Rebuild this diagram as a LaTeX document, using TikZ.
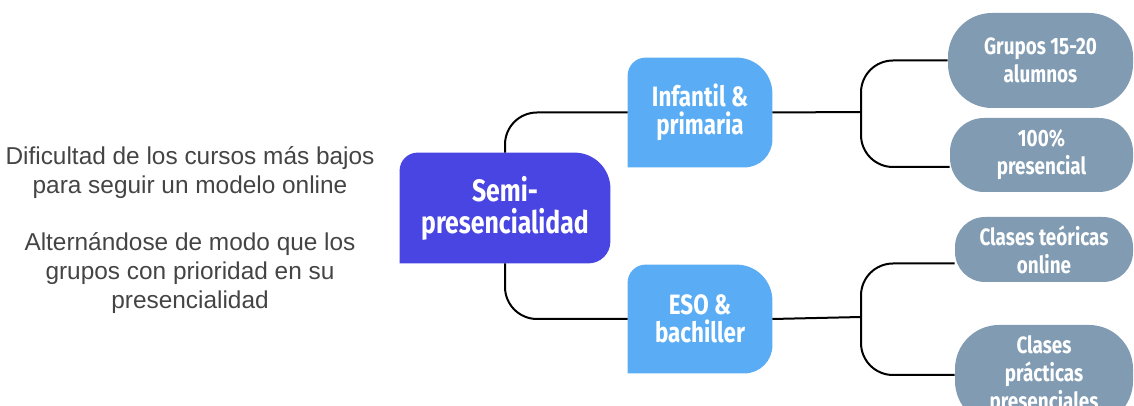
\documentclass[tikz,border=0pt]{standalone}
\usepackage{fontspec}
\setmainfont{Liberation Sans}
\newfontfamily\boxfont{Fira Sans}[FakeStretch=0.8]
\usetikzlibrary{backgrounds}

\definecolor{semiblue}{HTML}{4845E2}
\definecolor{midblue}{HTML}{5AADF5}
\definecolor{slate}{HTML}{809BB2}
\definecolor{leftgray}{HTML}{444444}

% fill behind a node: sharp bottom-left corner, three rounded ones
\newcommand{\tabfill}[5]{%
  \fill[#1] (#2.south west) -- ([yshift=-#3]#2.north west)
    arc[start angle=180,end angle=90,radius=#3] -- ([xshift=-#4]#2.north east)
    arc[start angle=90,end angle=0,radius=#4] -- ([yshift=#5]#2.south east)
    arc[start angle=0,end angle=-90,radius=#5] -- cycle;}

\tikzset{
  mainbox/.style={inner sep=0pt, align=center, text=white,
    font=\boxfont\bfseries\fontsize{15.5}{16}\selectfont},
  levelbox/.style={inner sep=0pt, align=center, text=white,
    font=\boxfont\bfseries\fontsize{14}{14}\selectfont},
  leafbox/.style={fill=slate, inner sep=0pt, align=center, text=white,
    font=\boxfont\bfseries\fontsize{11.8}{14}\selectfont},
  note/.style={align=center, text=leftgray, font=\fontsize{12.2}{14.5}\selectfont},
  link/.style={line width=1pt, rounded corners=16pt}
}

\begin{document}
\begin{tikzpicture}[x=0.5pt,y=0.5pt]
    \useasboundingbox (0,0) rectangle (1134,406);

    % Notes on the left
    \node[note] (why) at (190,233) {Dificultad de los cursos más bajos\\para seguir un modelo online};
    \node[note] (how) at (190,133) {Alternándose de modo que los\\grupos con prioridad en su\\presencialidad};

    % Root
    \node[mainbox, minimum width=105pt, minimum height=55pt] (semi) at (505,198) {Semi-\\presencialidad};

    % Levels
    \node[levelbox, minimum width=72pt, minimum height=54.5pt] (inf) at (700,293.5) {Infantil \&\\primaria};
    \node[levelbox, minimum width=72pt, minimum height=54pt] (eso) at (700,87) {ESO \&\\bachiller};

    % Leaves
    \node[leafbox, rounded corners=22pt, minimum width=92.5pt, minimum height=47.5pt] (grp) at (1040.5,345.5) {Grupos 15-20\\alumnos};
    \node[leafbox, rounded corners=17pt, minimum width=91.5pt, minimum height=37pt] (pres) at (1041.5,251) {100\%\\presencial};
    \node[leafbox, rounded corners=15pt, minimum width=89pt, minimum height=32.5pt] (teo) at (1044,156.5) {Clases teóricas\\online};
    \node[leafbox, rounded corners=22pt, minimum width=89pt, minimum height=50pt] (prac) at (1044,31) {Clases\\prácticas\\presenciales};

    \begin{pgfonlayer}{background}
        \tabfill{semiblue}{semi}{9pt}{18pt}{11pt}
        \tabfill{midblue}{inf}{9pt}{18pt}{14pt}
        \tabfill{midblue}{eso}{9pt}{18pt}{14pt}
    \end{pgfonlayer}

    % Connectors
    \coordinate (j1) at (861,294);
    \coordinate (j2) at (861,89);
    \draw[link] (semi.north) |- (inf.west);
    \draw[link] (semi.south) |- (eso.west);
    \draw[line width=1pt] (inf.east) -- (j1);
    \draw[line width=1pt] (eso.east) -- (j2);
    \draw[link] (j1) |- (grp.west);
    \draw[link] (j1) |- ([yshift=-6pt]pres.west);
    \draw[link] (j2) |- ([yshift=-7pt]teo.west);
    \draw[link] (j2) |- (prac.west);
\end{tikzpicture}
\end{document}
